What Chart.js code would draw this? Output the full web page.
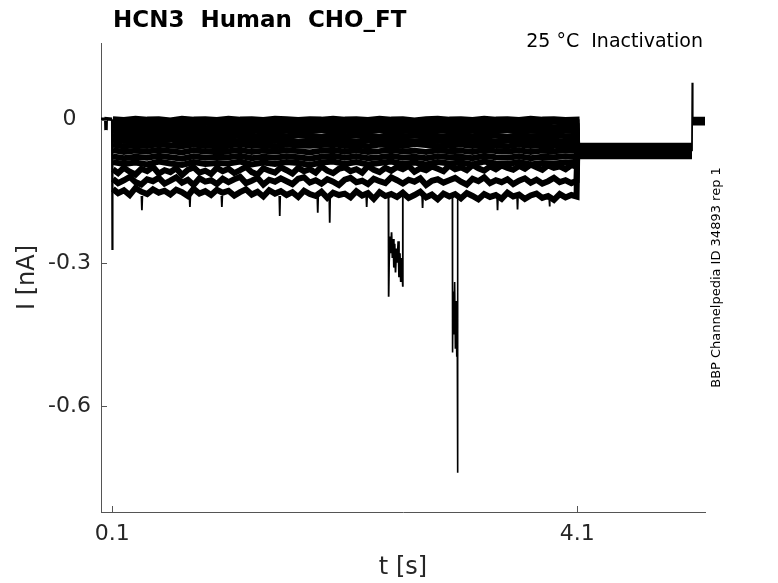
<!DOCTYPE html>
<html><head><meta charset="utf-8">
<script src="https://cdn.jsdelivr.net/npm/chart.js@4/dist/chart.umd.min.js"></script>
<style>html,body{margin:0;padding:0;background:#fff}#wrap{width:778px;height:583px;position:relative}</style>
</head><body><div id="wrap"><canvas id="c" width="778" height="583"></canvas></div>
<script>
const title = 'HCN3  Human  CHO_FT';
const subtitle = '25 °C  Inactivation';
const sideNote = 'BBP Channelpedia ID 34893 rep 1';
const xLabel = 't [s]';
const yLabel = 'I [nA]';
const xTickVals = [0.1, 4.1];
const xTickLabels = ['0.1', '4.1'];
const yTickVals = [0, -0.3, -0.6];
const yTickLabels = ['0', '-0.3', '-0.6'];

// holding segment before the step
const preT = [0.003, 0.044, 0.046, 0.048, 0.098];
const preV = [0.001, 0.001, -0.022, 0.002, 0.001];
// capacitive transient at the step onset
const onsetT = [0.098, 0.1, 0.103];
const onsetV = [0.001, -0.273, -0.06];

// test pulse sample times (coarse grid, upper traces)
const tPulse = [0.105, 0.2, 0.3, 0.4, 0.5, 0.6, 0.7, 0.8, 0.9, 1.0,
  1.1, 1.2, 1.3, 1.4, 1.5, 1.6, 1.7, 1.8, 1.9, 2.0,
  2.1, 2.2, 2.3, 2.4, 2.5, 2.6, 2.7, 2.8, 2.9, 3.0,
  3.1, 3.2, 3.3, 3.4, 3.5, 3.6, 3.7, 3.8, 3.9, 4.0, 4.095];
// finer grid for the three noisy lower traces
const tFine = [0.105,0.15,0.2,0.25,0.3,0.35,0.4,0.45,0.5,0.55,
  0.6,0.65,0.7,0.75,0.8,0.85,0.9,0.95,1.0,1.05,
  1.1,1.15,1.2,1.25,1.3,1.35,1.4,1.45,1.5,1.55,
  1.6,1.65,1.7,1.75,1.8,1.85,1.9,1.95,2.0,2.05,
  2.1,2.15,2.2,2.25,2.3,2.35,2.4,2.45,2.5,2.55,
  2.6,2.65,2.7,2.75,2.8,2.85,2.9,2.95,3.0,3.05,
  3.1,3.15,3.2,3.25,3.3,3.35,3.4,3.45,3.5,3.55,
  3.6,3.65,3.7,3.75,3.8,3.85,3.9,3.95,4.0,4.05,4.095];

const trace1 = [0.001,-0.001,0.002,0.000,0.001,-0.002,0.002,0.000,0.001,-0.001,
  0.002,0.000,0.001,-0.001,0.002,0.001,-0.001,0.001,0.000,0.002,
  0.000,0.001,-0.001,0.002,0.000,0.001,-0.002,0.001,0.002,0.000,
  0.001,-0.001,0.002,0.000,0.001,-0.001,0.002,0.000,0.001,-0.001,0.000];
const trace2 = [-0.005,-0.008,-0.004,-0.007,-0.005,-0.006,-0.009,-0.005,-0.007,-0.004,
  -0.006,-0.008,-0.005,-0.007,-0.004,-0.006,-0.008,-0.005,-0.007,-0.006,
  -0.004,-0.007,-0.005,-0.008,-0.006,-0.004,-0.007,-0.005,-0.006,-0.008,
  -0.005,-0.007,-0.004,-0.006,-0.008,-0.005,-0.007,-0.006,-0.004,-0.007,-0.006];
const trace3 = [-0.013,-0.016,-0.014,-0.017,-0.015,-0.013,-0.016,-0.014,-0.018,-0.015,
  -0.014,-0.016,-0.013,-0.017,-0.015,-0.014,-0.016,-0.013,-0.015,-0.017,
  -0.014,-0.016,-0.015,-0.013,-0.017,-0.014,-0.016,-0.015,-0.013,-0.016,
  -0.015,-0.017,-0.014,-0.016,-0.013,-0.015,-0.017,-0.014,-0.016,-0.015,-0.014];
const trace4 = [-0.022,-0.025,-0.023,-0.026,-0.024,-0.022,-0.025,-0.023,-0.026,-0.024,
  -0.023,-0.025,-0.022,-0.026,-0.024,-0.023,-0.025,-0.024,-0.022,-0.026,
  -0.024,-0.023,-0.025,-0.022,-0.026,-0.024,-0.023,-0.025,-0.024,-0.022,
  -0.025,-0.023,-0.026,-0.024,-0.022,-0.025,-0.023,-0.024,-0.026,-0.023,-0.024];
const trace5 = [-0.032,-0.035,-0.033,-0.036,-0.034,-0.032,-0.036,-0.033,-0.035,-0.034,
  -0.032,-0.035,-0.034,-0.036,-0.033,-0.035,-0.032,-0.034,-0.036,-0.033,
  -0.035,-0.033,-0.034,-0.036,-0.032,-0.035,-0.034,-0.033,-0.036,-0.034,
  -0.033,-0.035,-0.032,-0.034,-0.036,-0.033,-0.035,-0.034,-0.032,-0.035,-0.034];
const trace6 = [-0.042,-0.045,-0.043,-0.046,-0.044,-0.042,-0.046,-0.043,-0.045,-0.044,
  -0.043,-0.046,-0.044,-0.042,-0.045,-0.043,-0.046,-0.044,-0.042,-0.045,
  -0.044,-0.046,-0.043,-0.045,-0.042,-0.044,-0.046,-0.043,-0.045,-0.044,
  -0.042,-0.045,-0.043,-0.046,-0.044,-0.043,-0.045,-0.042,-0.044,-0.046,-0.044];
const trace7 = [-0.052,-0.056,-0.053,-0.055,-0.051,-0.054,-0.056,-0.052,-0.055,-0.053,
  -0.054,-0.051,-0.055,-0.053,-0.056,-0.052,-0.054,-0.055,-0.053,-0.051,
  -0.055,-0.053,-0.056,-0.052,-0.054,-0.055,-0.051,-0.053,-0.056,-0.054,
  -0.052,-0.055,-0.053,-0.054,-0.056,-0.052,-0.055,-0.053,-0.054,-0.056,-0.054];
const trace8 = [-0.064,-0.068,-0.065,-0.067,-0.063,-0.066,-0.069,-0.064,-0.067,-0.065,
  -0.066,-0.063,-0.068,-0.065,-0.067,-0.064,-0.066,-0.069,-0.065,-0.063,
  -0.067,-0.064,-0.068,-0.066,-0.063,-0.067,-0.065,-0.068,-0.064,-0.066,
  -0.065,-0.068,-0.063,-0.066,-0.067,-0.064,-0.068,-0.065,-0.066,-0.064,-0.066];
const trace9 = [-0.077,-0.081,-0.078,-0.080,-0.076,-0.079,-0.082,-0.077,-0.080,-0.078,
  -0.079,-0.076,-0.081,-0.078,-0.080,-0.077,-0.079,-0.082,-0.078,-0.076,
  -0.080,-0.077,-0.081,-0.079,-0.076,-0.080,-0.078,-0.081,-0.077,-0.079,
  -0.078,-0.081,-0.076,-0.079,-0.080,-0.077,-0.081,-0.078,-0.079,-0.077,-0.079];
const trace10 = [-0.089,-0.093,-0.090,-0.094,-0.088,-0.092,-0.095,-0.089,-0.093,-0.091,
  -0.092,-0.088,-0.094,-0.090,-0.093,-0.089,-0.091,-0.095,-0.090,-0.088,
  -0.093,-0.089,-0.094,-0.091,-0.088,-0.093,-0.090,-0.094,-0.089,-0.092,
  -0.090,-0.094,-0.088,-0.092,-0.093,-0.089,-0.094,-0.091,-0.092,-0.090,-0.091];
const trace11 = [-0.104,-0.112,-0.101,-0.109,-0.115,-0.103,-0.108,-0.099,-0.113,-0.106,
  -0.110,-0.102,-0.116,-0.105,-0.100,-0.111,-0.107,-0.114,-0.101,-0.108,
  -0.103,-0.112,-0.106,-0.099,-0.110,-0.115,-0.102,-0.107,-0.111,-0.100,
  -0.106,-0.113,-0.101,-0.108,-0.104,-0.111,-0.098,-0.107,-0.112,-0.103,
  -0.100,-0.108,-0.104,-0.111,-0.097,-0.105,-0.110,-0.101,-0.107,-0.099,
  -0.104,-0.097,-0.109,-0.102,-0.106,-0.098,-0.103,-0.108,-0.096,-0.104,
  -0.100,-0.106,-0.095,-0.102,-0.107,-0.098,-0.104,-0.096,-0.101,-0.105,
  -0.097,-0.103,-0.094,-0.100,-0.105,-0.096,-0.101,-0.098,-0.104,-0.095,-0.099];
const trace12 = [-0.124,-0.133,-0.127,-0.120,-0.131,-0.136,-0.125,-0.129,-0.122,-0.134,
  -0.128,-0.121,-0.132,-0.126,-0.137,-0.123,-0.130,-0.127,-0.135,-0.124,
  -0.131,-0.125,-0.120,-0.133,-0.128,-0.122,-0.136,-0.126,-0.130,-0.123,
  -0.129,-0.135,-0.124,-0.121,-0.132,-0.127,-0.134,-0.125,-0.130,-0.137,
  -0.126,-0.122,-0.131,-0.128,-0.135,-0.124,-0.129,-0.133,-0.121,-0.127,
  -0.134,-0.126,-0.130,-0.123,-0.137,-0.128,-0.125,-0.132,-0.127,-0.122,
  -0.130,-0.136,-0.124,-0.129,-0.121,-0.133,-0.127,-0.131,-0.125,-0.135,
  -0.128,-0.123,-0.132,-0.126,-0.134,-0.129,-0.122,-0.131,-0.127,-0.133,-0.128];
const trace13 = [-0.145,-0.154,-0.148,-0.158,-0.143,-0.151,-0.156,-0.146,-0.153,-0.149,
  -0.157,-0.147,-0.152,-0.160,-0.145,-0.155,-0.150,-0.158,-0.147,-0.153,
  -0.149,-0.159,-0.152,-0.146,-0.157,-0.151,-0.161,-0.148,-0.155,-0.150,
  -0.158,-0.152,-0.162,-0.149,-0.156,-0.160,-0.151,-0.164,-0.153,-0.158,
  -0.155,-0.163,-0.150,-0.159,-0.154,-0.166,-0.152,-0.160,-0.156,-0.162,
  -0.153,-0.164,-0.158,-0.151,-0.163,-0.157,-0.167,-0.155,-0.161,-0.156,
  -0.165,-0.154,-0.160,-0.167,-0.156,-0.162,-0.158,-0.166,-0.153,-0.161,
  -0.157,-0.166,-0.159,-0.155,-0.164,-0.160,-0.168,-0.156,-0.163,-0.158,-0.161];

// level after the step (4.1 s to 5.09 s)
const postT = [4.1, 5.088];
const postLevels = [-0.055,-0.057,-0.059,-0.061,-0.063,-0.064,-0.065,-0.066,-0.068,-0.070,-0.072,-0.074,-0.077];
// final transient and return to holding
const offsetT = [5.088, 5.091, 5.094];
const offsetV = [-0.066, 0.077, -0.002];
const endT = [5.094, 5.2];
const endLevels = [0.004,0.003,0.001,0.000,-0.001,-0.002,-0.003,-0.004,-0.005,-0.006,-0.008,-0.009,-0.010];

// brief downward spikes on the lowest trace
const spikeT = [0.355, 0.768, 1.043, 1.541, 1.868, 1.971, 2.289, 2.770, 3.415, 3.587, 3.862];
const spikeV = [-0.190, -0.183, -0.183, -0.202, -0.195, -0.216, -0.183, -0.185, -0.190, -0.188, -0.182];
const spikeBase = -0.160;

// two large excursions
const exc1T = [2.476,2.478,2.482,2.490,2.497,2.503,2.510,2.517,2.523,2.530,2.537,2.545,2.552,2.560,2.567,2.575,2.582,2.590,2.596,2.599,2.601];
const exc1V = [-0.160,-0.371,-0.300,-0.245,-0.280,-0.236,-0.290,-0.250,-0.310,-0.260,-0.320,-0.270,-0.300,-0.255,-0.330,-0.280,-0.340,-0.290,-0.330,-0.350,-0.160];
const exc2T = [3.026,3.028,3.033,3.040,3.046,3.052,3.058,3.064,3.068,3.071,3.073];
const exc2V = [-0.160,-0.488,-0.360,-0.450,-0.340,-0.480,-0.380,-0.497,-0.420,-0.740,-0.160];

const upperTraces = [trace1,trace2,trace3,trace4,trace5,trace6,trace7,trace8,trace9,trace10];
const lowerTraces = [trace11,trace12,trace13];

const datasets = [];
function buildTrace(times, vals, i, width) {
  const pts = [];
  times.forEach((t, j) => pts.push({x: t, y: vals[j]}));
  postT.forEach(t => pts.push({x: t, y: postLevels[i]}));
  datasets.push({data: pts, borderWidth: width});
}
upperTraces.forEach((v, i) => buildTrace(tPulse, v, i, 6));
lowerTraces.forEach((v, i) => buildTrace(tFine, v, i + upperTraces.length, 6));

datasets.push({data: preT.map((t, i) => ({x: t, y: preV[i]})), borderWidth: 3.5});
datasets.push({data: onsetT.map((t, i) => ({x: t, y: onsetV[i]})), borderWidth: 2.2});
datasets.push({data: offsetT.map((t, i) => ({x: t, y: offsetV[i]})), borderWidth: 1.8});
const endPts = [];
endLevels.forEach(l => { endPts.push({x: endT[0], y: l}); endPts.push({x: endT[1], y: l}); endPts.push({x: endT[1], y: null}); });
datasets.push({data: endPts, borderWidth: 2, spanGaps: false});

const spikePts = [];
spikeT.forEach((t, i) => {
  spikePts.push({x: t - 0.004, y: spikeBase});
  spikePts.push({x: t, y: spikeV[i]});
  spikePts.push({x: t + 0.004, y: spikeBase});
  spikePts.push({x: t + 0.005, y: null});
});
datasets.push({data: spikePts, borderWidth: 1.8, spanGaps: false});
datasets.push({data: exc1T.map((t, i) => ({x: t, y: exc1V[i]})), borderWidth: 1.8});
datasets.push({data: exc2T.map((t, i) => ({x: t, y: exc2V[i]})), borderWidth: 1.6});
datasets.forEach(d => { d.borderColor = '#000'; d.pointRadius = 0; d.fill = false; d.tension = 0; });

const FONT = 'DejaVu Sans';
const textPlugin = {
  id: 'texts',
  afterDraw(chart) {
    const ctx = chart.ctx;
    const xs = chart.scales.x, ys = chart.scales.y;
    const ca = chart.chartArea;
    ctx.save();
    ctx.strokeStyle = '#555';
    ctx.lineWidth = 1;
    ctx.beginPath();
    xTickVals.forEach(v => {
      const px = Math.round(xs.getPixelForValue(v)) + 0.5;
      ctx.moveTo(px, ca.bottom); ctx.lineTo(px, ca.bottom - 6);
    });
    yTickVals.forEach(v => {
      const py = Math.round(ys.getPixelForValue(v)) + 0.5;
      ctx.moveTo(ca.left, py); ctx.lineTo(ca.left + 6, py);
    });
    ctx.stroke();
    ctx.fillStyle = '#000';
    ctx.font = 'bold 23px "' + FONT + '"';
    ctx.textAlign = 'left'; ctx.textBaseline = 'alphabetic';
    ctx.fillText(title, 113, 27);
    ctx.font = '19px "' + FONT + '"';
    ctx.textAlign = 'right';
    ctx.fillText(subtitle, 703, 47);
    ctx.fillStyle = '#262626';
    ctx.font = '24px "' + FONT + '"';
    ctx.textAlign = 'center';
    ctx.fillText(xLabel, (ca.left + ca.right) / 2, 574);
    ctx.save();
    ctx.translate(28, (ca.top + ca.bottom) / 2);
    ctx.rotate(-Math.PI / 2);
    ctx.textBaseline = 'middle';
    ctx.fillText(yLabel, 0, 0);
    ctx.restore();
    ctx.save();
    ctx.fillStyle = '#000';
    ctx.font = '13px "' + FONT + '"';
    ctx.translate(716.5, (ca.top + ca.bottom) / 2);
    ctx.rotate(-Math.PI / 2);
    ctx.textAlign = 'center'; ctx.textBaseline = 'middle';
    ctx.fillText(sideNote, 0, 0);
    ctx.restore();
    ctx.restore();
  }
};

new Chart(document.getElementById('c'), {
  type: 'line',
  data: {datasets},
  options: {
    responsive: false,
    animation: false,
    layout: {padding: {left: 0, right: 73, top: 43, bottom: 0}},
    plugins: {legend: {display: false}, tooltip: {enabled: false}, title: {display: false}},
    elements: {line: {borderJoinStyle: 'miter', borderCapStyle: 'butt'}},
    scales: {
      x: {
        type: 'linear', min: 0.003, max: 5.2,
        afterBuildTicks: s => { s.ticks = xTickVals.map(v => ({value: v})); },
        afterFit: s => { s.height = 71; },
        grid: {display: false, drawTicks: false},
        border: {display: true, color: '#555', width: 1},
        ticks: {
          autoSkip: false, maxRotation: 0, padding: 9,
          color: '#262626', font: {family: FONT, size: 22},
          callback: v => { const k = xTickVals.findIndex(a => Math.abs(a - v) < 1e-9); return k >= 0 ? xTickLabels[k] : ''; }
        }
      },
      y: {
        type: 'linear', min: -0.822, max: 0.1605,
        afterBuildTicks: s => { s.ticks = yTickVals.map(v => ({value: v})); },
        afterFit: s => { s.width = 101; },
        grid: {display: false, drawTicks: false},
        border: {display: true, color: '#555', width: 1},
        ticks: {
          autoSkip: false, padding: 10, crossAlign: 'center',
          color: '#262626', font: {family: FONT, size: 22},
          callback: v => { const k = yTickVals.findIndex(a => Math.abs(a - v) < 1e-9); return k >= 0 ? yTickLabels[k] : ''; }
        }
      }
    }
  },
  plugins: [textPlugin]
});
</script>
</body></html>
